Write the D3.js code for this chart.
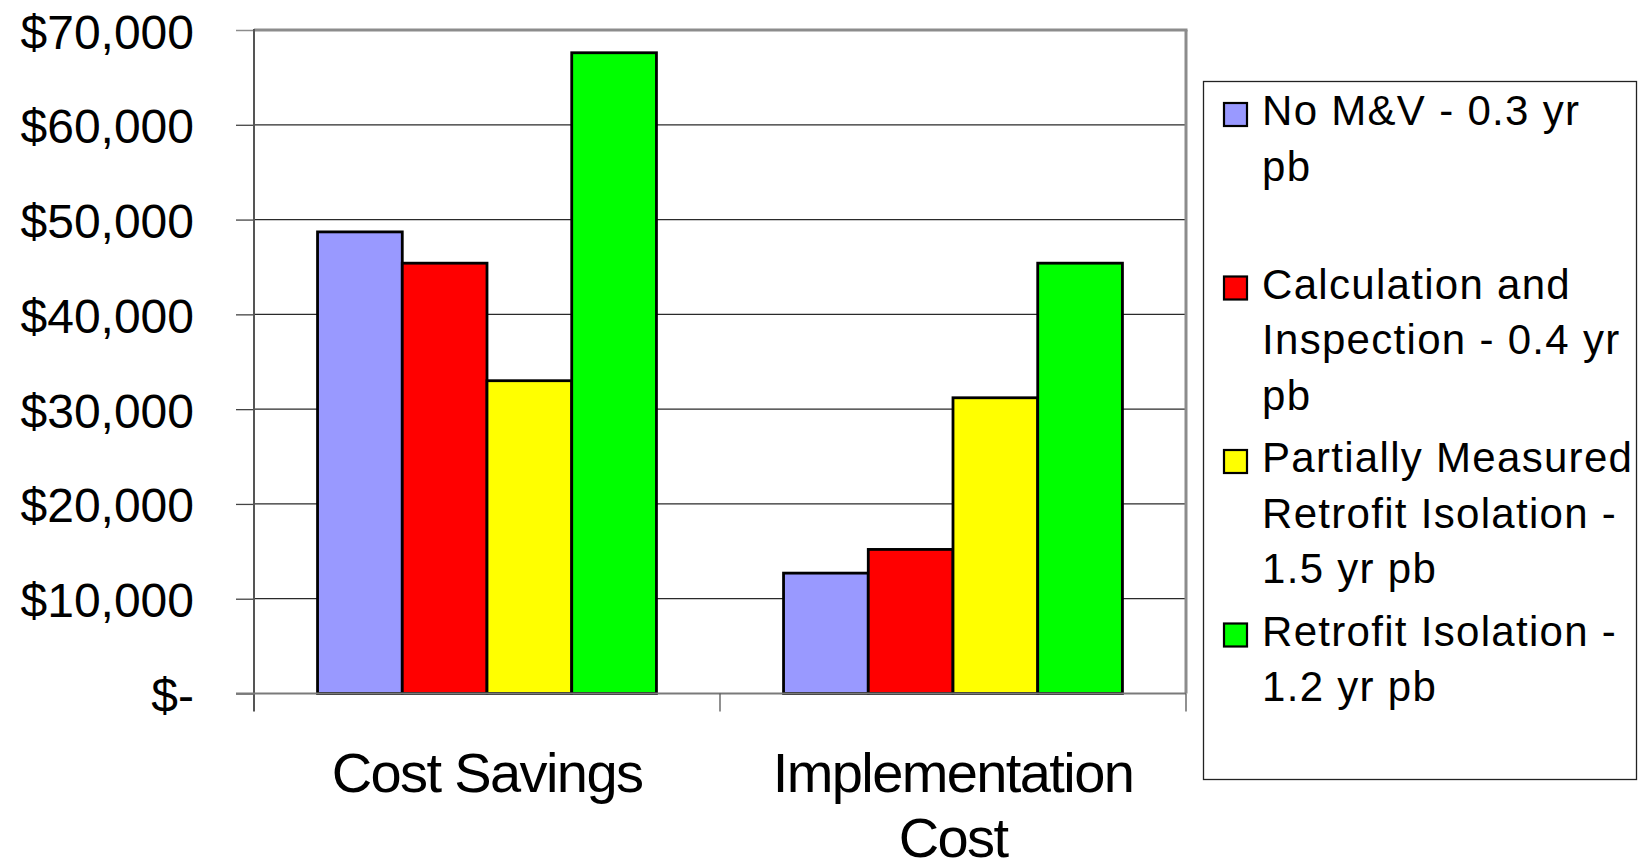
<!DOCTYPE html>
<html>
<head>
<meta charset="utf-8">
<script src="https://cdn.jsdelivr.net/npm/d3@7"></script>
<style>
  html, body { margin: 0; padding: 0; background: #fff; }
  svg { display: block; }
  text { font-family: "Liberation Sans", Arial, sans-serif; fill: #000; }
</style>
</head>
<body>
<svg id="chart" width="1646" height="864"></svg>
<script>
// ---- data ----
const categories = ["Cost Savings", "Implementation Cost"];
const categoryLines = [["Cost Savings"], ["Implementation", "Cost"]];
const seriesNames = [
  "No M&V - 0.3 yr pb",
  "Calculation and Inspection - 0.4 yr pb",
  "Partially Measured Retrofit Isolation - 1.5 yr pb",
  "Retrofit Isolation - 1.2 yr pb"
];
const legendLines = [
  ["No M&V - 0.3 yr", "pb"],
  ["Calculation and", "Inspection - 0.4 yr", "pb"],
  ["Partially Measured", "Retrofit Isolation -", "1.5 yr pb"],
  ["Retrofit Isolation -", "1.2 yr pb"]
];
const seriesColors = ["#9999FF", "#FF0000", "#FFFF00", "#00FF00"];
const noMV        = [48700, 12700];
const calcInspect = [45400, 15200];
const partialRI   = [33000, 31200];
const retrofitISO = [67600, 45400];
const seriesValues = [noMV, calcInspect, partialRI, retrofitISO];
const yTicks = [0, 10000, 20000, 30000, 40000, 50000, 60000, 70000];
const yTickLabels = ["$-", "$10,000", "$20,000", "$30,000", "$40,000", "$50,000", "$60,000", "$70,000"];

// ---- layout ----
const svg = d3.select("#chart");
const plot = { left: 254, right: 1186, top: 30, bottom: 693.5 };

const x0 = d3.scaleBand().domain(categories).range([plot.left, plot.right]).paddingInner(0).paddingOuter(0);
const x1 = d3.scaleBand().domain(seriesNames).range([0, x0.bandwidth()]).paddingInner(0).paddingOuter(0.75);
const y = d3.scaleLinear().domain([0, 70000]).range([plot.bottom, plot.top]);

// gridlines
svg.append("g").selectAll("line").data(yTicks.filter(d => d > 0 && d < 70000)).join("line")
  .attr("x1", plot.left).attr("x2", plot.right)
  .attr("y1", d => y(d)).attr("y2", d => y(d))
  .attr("stroke", "#2a2a2a").attr("stroke-width", 1.2);

// plot area top & right border (gray)
svg.append("line").attr("x1", plot.left).attr("x2", plot.right + 1.5)
  .attr("y1", y(70000)).attr("y2", y(70000)).attr("stroke", "#8c8c8c").attr("stroke-width", 3);
svg.append("line").attr("x1", plot.right).attr("x2", plot.right)
  .attr("y1", y(70000)).attr("y2", plot.bottom).attr("stroke", "#8c8c8c").attr("stroke-width", 3);

// bars
const groups = svg.append("g").selectAll("g").data(categories).join("g")
  .attr("transform", c => `translate(${x0(c)},0)`);
groups.selectAll("rect").data((c, ci) => seriesNames.map((s, si) => ({ s, si, v: seriesValues[si][ci] })))
  .join("rect")
  .attr("x", d => x1(d.s))
  .attr("width", x1.bandwidth())
  .attr("y", d => y(d.v))
  .attr("height", d => y(0) - y(d.v))
  .attr("fill", d => seriesColors[d.si])
  .attr("stroke", "#000").attr("stroke-width", 2.8);

// y axis
const yAxis = d3.axisLeft(y).tickValues(yTicks).tickSize(18).tickFormat((d, i) => yTickLabels[i]);
const ya = svg.append("g").attr("transform", `translate(${plot.left},0)`).call(yAxis);
ya.select(".domain").remove();
ya.selectAll(".tick line").attr("stroke", "#444").attr("stroke-width", 1.3);
ya.selectAll(".tick line").filter(d => d === 70000).attr("stroke", "#8c8c8c").attr("stroke-width", 1.5);
ya.selectAll(".tick text")
  .attr("x", -60).attr("dy", null).attr("y", 18)
  .attr("text-anchor", "end")
  .style("font-size", "48px")
  .style("font-family", "'Liberation Sans', Arial, sans-serif")
  .attr("fill", "#000");

// y axis line
svg.append("line").attr("x1", plot.left).attr("x2", plot.left)
  .attr("y1", plot.top - 1).attr("y2", plot.bottom + 18)
  .attr("stroke", "#555").attr("stroke-width", 2);

// x axis baseline
svg.append("line").attr("x1", plot.left - 18).attr("x2", plot.right)
  .attr("y1", plot.bottom).attr("y2", plot.bottom)
  .attr("stroke", "#7a7a7a").attr("stroke-width", 2.2);

// x ticks at band boundaries
const bounds = categories.map(c => x0(c)).concat([x0(categories[categories.length - 1]) + x0.bandwidth()]);
svg.append("g").selectAll("line").data(bounds.slice(1)).join("line")
  .attr("x1", d => d).attr("x2", d => d)
  .attr("y1", plot.bottom).attr("y2", plot.bottom + 18)
  .attr("stroke", "#555").attr("stroke-width", 1.3);

// category labels
categories.forEach((c, i) => {
  const t = svg.append("text")
    .attr("x", x0(c) + x0.bandwidth() / 2)
    .attr("y", 792)
    .attr("text-anchor", "middle")
    .style("font-size", "56px")
    .style("letter-spacing", "-1.6px");
  categoryLines[i].forEach((ln, li) => {
    t.append("tspan").attr("x", x0(c) + x0.bandwidth() / 2).attr("y", 792 + li * 65).text(ln);
  });
});

// legend
const lg = svg.append("g");
lg.append("rect").attr("x", 1203.5).attr("y", 81.5).attr("width", 433).attr("height", 698)
  .attr("fill", "#fff").attr("stroke", "#222").attr("stroke-width", 1.3);
legendLines.forEach((lines, i) => {
  const base = 125 + i * 173.5;
  lg.append("rect").attr("x", 1224).attr("y", base - 22).attr("width", 23).attr("height", 23)
    .attr("fill", seriesColors[i]).attr("stroke", "#000").attr("stroke-width", 2.2);
  lines.forEach((ln, li) => {
    lg.append("text").attr("x", 1262).attr("y", base + li * 55.5)
      .style("font-size", "42px").style("letter-spacing", "1.3px").text(ln);
  });
});
</script>
</body>
</html>
